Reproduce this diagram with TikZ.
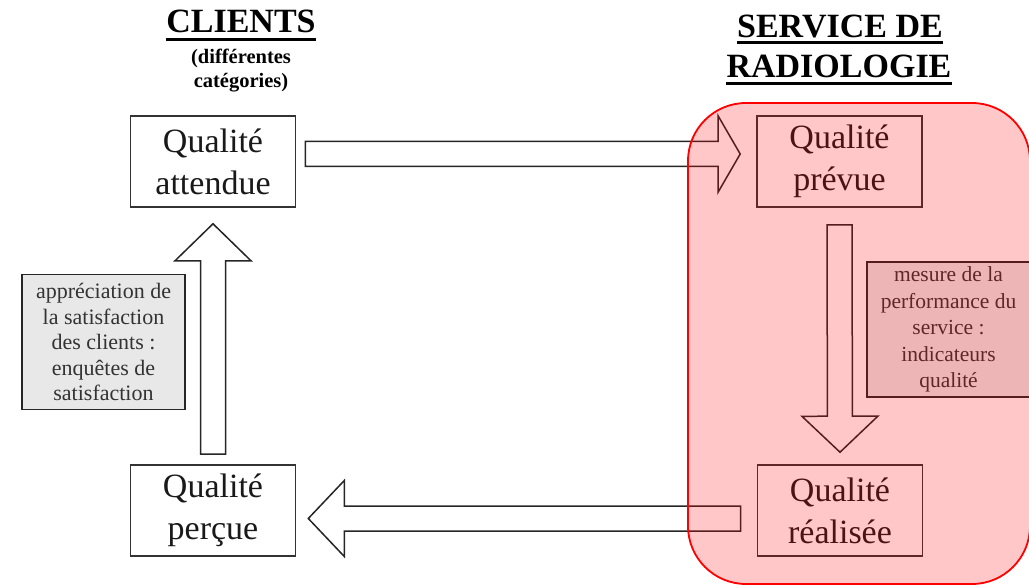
\documentclass[tikz,border=0pt]{standalone}
\usepackage{fontspec}
\setmainfont{Liberation Serif}
\usetikzlibrary{calc}

\tikzset{
	boite/.style={draw=black!80, line width=1.6pt, fill=white, minimum width=165pt, minimum height=91pt, inner sep=0pt, align=center, font=\fontsize{34}{42}\selectfont, text=black!90},
	etiquette/.style={draw=black!85, line width=1.6pt, fill=black!9, minimum width=163pt, minimum height=135pt, inner sep=0pt, align=center, font=\fontsize{22}{25.5}\selectfont, text=black!80},
	titre/.style={inner sep=0pt, anchor=base, font=\fontsize{34}{40}\selectfont\bfseries},
	souligne/.style={line width=3pt},
	grosse/.style={draw=black!85, line width=1.5pt, fill=white, line join=miter},
}

% fleche epaisse : [longueur de la pointe]{depart}{arrivee}
\newcommand{\fleche}[3][36pt]{%
	\coordinate (fl-h) at ($(#3)!#1!(#2)$);
	\draw[grosse] ($(#2)!12.5pt!90:(#3)$) -- ($(fl-h)!12.5pt!90:(#3)$) -- ($(fl-h)!38pt!90:(#3)$) -- (#3)
		-- ($(fl-h)!38pt!-90:(#3)$) -- ($(fl-h)!12.5pt!-90:(#3)$) -- ($(#2)!12.5pt!-90:(#3)$) -- cycle;}

\begin{document}
\begin{tikzpicture}[x=1pt, y=-1pt]
	\useasboundingbox (0,0) rectangle (1029,585);
	
	% Titres
	\node[titre] (cli) at (241,33) {CLIENTS};
	\draw[souligne] ([yshift=-7pt]cli.base west) -- ([yshift=-7pt]cli.base east);
	\node[inner sep=0pt, align=center, font=\fontsize{20.5}{24}\selectfont\bfseries] (cat) at (241,71) {(différentes\\catégories)};
	
	\node[titre] (svc) at (840,38) {SERVICE DE};
	\draw[souligne] ([yshift=-5pt]svc.base west) -- ([yshift=-5pt]svc.base east);
	\node[titre] (rad) at (839,78) {RADIOLOGIE};
	\draw[souligne] ([yshift=-6pt]rad.base west) -- ([yshift=-6pt]rad.base east);
	
	% Qualites
	\node[boite] (att) at (213,161.5) {Qualité\\attendue};
	\node[boite] (prev) at (839.5,161.5) {Qualité\\prévue};
	\node[boite] (real) at (840,510.5) {Qualité\\réalisée};
	\node[boite] (perc) at (213,510.5) {Qualité\\perçue};
	
	% Fleches
	\coordinate (a1) at ([xshift=9pt,yshift=7.5pt]att.east);
	\coordinate (b1) at ([xshift=-16pt,yshift=7.5pt]prev.west);
	\fleche[22pt]{a1}{b1}
	
	\coordinate (a2) at ([yshift=-17pt]prev.south);
	\coordinate (b2) at ([yshift=12pt]real.north);
	\fleche{a2}{b2}
	
	\coordinate (a3) at ([xshift=-16pt,yshift=-8pt]real.west);
	\coordinate (b3) at ([xshift=12pt,yshift=-8pt]perc.east);
	\fleche{a3}{b3}
	
	\coordinate (a4) at ([yshift=10pt]perc.north);
	\coordinate (b4) at ([yshift=-16pt]att.south);
	\fleche[37pt]{a4}{b4}
	
	% Etiquettes
	\node[etiquette] (sat) at (103.5,342) {appréciation de\\la satisfaction\\des clients :\\enquêtes de\\satisfaction};
	\node[etiquette, font=\fontsize{21.5}{26.5}\selectfont] (ind) at (948.5,329.5) {mesure de la\\performance du\\service :\\indicateurs\\qualité};
	
	% Service de radiologie
	\draw[red, line width=1.8pt, fill=red, fill opacity=0.22, rounded corners=58pt] (688,103) rectangle (1030,584);
\end{tikzpicture}
\end{document}
